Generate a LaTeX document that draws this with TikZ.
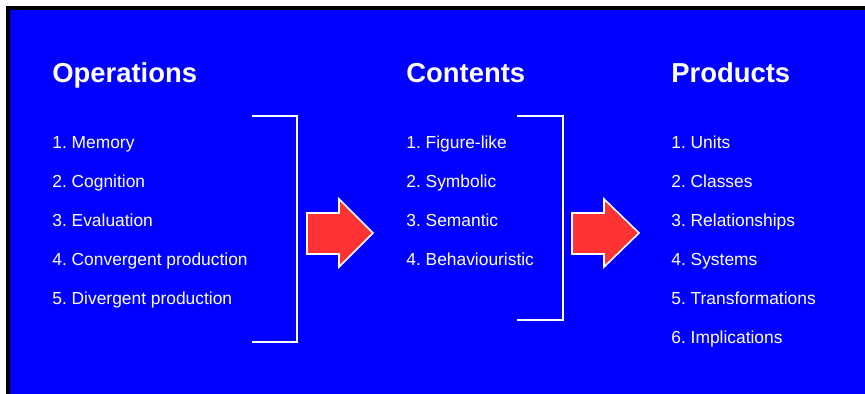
\documentclass[tikz,border=0pt]{standalone}
\usepackage{fontspec}
\setmainfont{Liberation Sans}
\usepackage{tikz}
\frenchspacing

\definecolor{slideblue}{RGB}{0,0,255}
\definecolor{arrowred}{RGB}{255,51,51}

\tikzset{
    heading/.style={anchor=base west, inner sep=0pt, text=white, font=\fontsize{15.6}{18}\selectfont\bfseries},
    item/.style={anchor=base west, inner sep=0pt, text=white, font=\fontsize{9.9}{12}\selectfont},
    bracket/.style={draw=white, line width=1.1pt},
    redarrow/.style={fill=arrowred, draw=white, line width=0.9pt, line join=miter}
}

\begin{document}
\begin{tikzpicture}[x=0.02cm, y=-0.02cm]
    % background and frame
    \useasboundingbox (0,0) rectangle (865,394);
    \fill[white] (0,0) rectangle (865,394);
    \fill[black] (6,6) rectangle (865,394);
    \fill[slideblue] (10,10) rectangle (865,394);

    % Operations
    \node[heading] (ops) at (52,83) {Operations};
    \node[item] (op1) at (52,149) {1. Memory};
    \node[item] (op2) at (52,188) {2. Cognition};
    \node[item] (op3) at (52,227) {3. Evaluation};
    \node[item] (op4) at (52,266) {4. Convergent production};
    \node[item] (op5) at (52,305) {5. Divergent production};
    \draw[bracket] (252,116) -- (297,116) -- (297,342) -- (252,342);

    % first arrow
    \draw[redarrow] (307,213) -- (339,213) -- (339,199) -- (373,233)
        -- (339,267) -- (339,254) -- (307,254) -- cycle;

    % Contents
    \node[heading] (cont) at (406,83) {Contents};
    \node[item] (ct1) at (406,149) {1. Figure-like};
    \node[item] (ct2) at (406,188) {2. Symbolic};
    \node[item] (ct3) at (406,227) {3. Semantic};
    \node[item] (ct4) at (406,266) {4. Behaviouristic};
    \draw[bracket] (517,116) -- (563,116) -- (563,320) -- (517,320);

    % second arrow
    \draw[redarrow] (572,213) -- (604,213) -- (604,199) -- (639,233)
        -- (604,267) -- (604,254) -- (572,254) -- cycle;

    % Products
    \node[heading] (prod) at (671,83) {Products};
    \node[item] (pr1) at (671,149) {1. Units};
    \node[item] (pr2) at (671,188) {2. Classes};
    \node[item] (pr3) at (671,227) {3. Relationships};
    \node[item] (pr4) at (671,266) {4. Systems};
    \node[item] (pr5) at (671,305) {5. Transformations};
    \node[item] (pr6) at (671,344) {6. Implications};
\end{tikzpicture}
\end{document}
